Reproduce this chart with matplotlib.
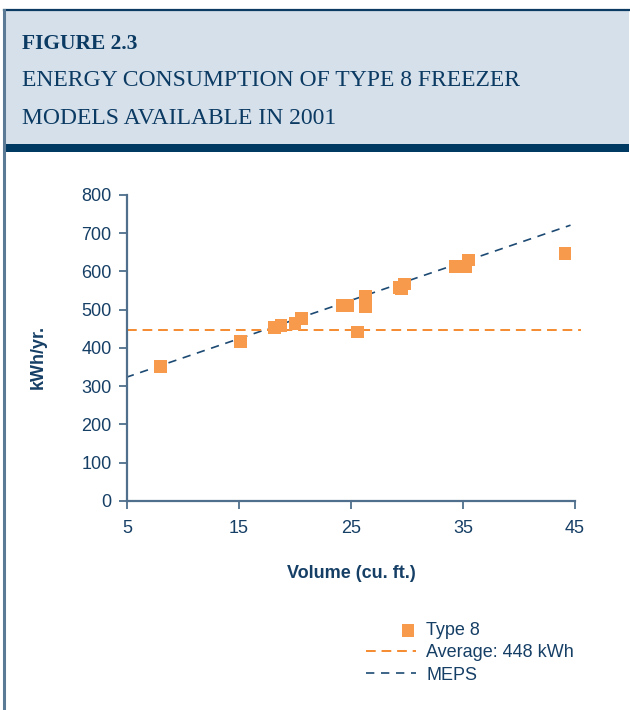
"""Energy consumption of Type 8 freezer models available in 2001 (Figure 2.3)."""

import matplotlib

matplotlib.use("Agg")
import matplotlib.pyplot as plt
from matplotlib.legend_handler import HandlerPathCollection
from matplotlib.lines import Line2D
from matplotlib.patches import Rectangle

# model volumes (cu. ft.) and rated energy use (kWh/yr.)
volume = [8.0, 15.15, 18.15, 18.75, 20.0, 20.6, 24.25, 24.7, 26.3, 26.3, 25.6,
          29.3, 29.5, 29.8, 34.3, 35.2, 35.5, 44.1]
kwh = [351, 416, 453, 458, 465, 478, 512, 512, 536, 508, 442,
       559, 554, 567, 612, 612, 630, 646]

average_kwh = 448
meps_volume = [4.9, 44.6]
meps_kwh = [323, 721]

x_ticks = [5, 15, 25, 35, 45]
y_ticks = [0, 100, 200, 300, 400, 500, 600, 700, 800]

NAVY = "#0b3a63"
TEXT = "#163f66"
SPINE = "#4f6f8c"
ORANGE = "#f79a4b"
AVG_ORANGE = "#f58a2f"
MEPS_BLUE = "#1d4a73"
FONT_SIZE = 13


class RightMarkerHandler(HandlerPathCollection):
    # legend square sits at the right end of the handle, as in the original
    def get_xdata(self, legend, xdescent, ydescent, width, height, fontsize):
        x = [-xdescent + width - 5.5]
        return x, x


plt.rcParams["font.family"] = ["Liberation Sans", "DejaVu Sans"]

fig = plt.figure(figsize=(6.3, 7.1), dpi=100)

# header panel
fig.add_artist(Rectangle((0.006, 0.796), 0.992, 0.19, transform=fig.transFigure,
                         facecolor="#d6e0ea", edgecolor="none", zorder=0))
fig.add_artist(Line2D([0.006, 0.998], [0.986, 0.986], transform=fig.transFigure,
                      color=NAVY, lw=1.6))
fig.add_artist(Rectangle((0.006, 0.786), 0.992, 0.011, transform=fig.transFigure,
                         facecolor="#003a63", edgecolor="none"))
fig.add_artist(Line2D([0.0065, 0.0065], [0.0, 0.986], transform=fig.transFigure,
                      color="#5a7a96", lw=2.2))

fig.text(0.035, 0.938, "FIGURE 2.3", family="Liberation Serif", fontweight="bold",
         fontsize=15.5, color=NAVY, va="center")
fig.text(0.035, 0.886, "ENERGY CONSUMPTION OF TYPE 8 FREEZER", family="Liberation Serif",
         fontsize=17, color=NAVY, va="center")
fig.text(0.035, 0.833, "MODELS AVAILABLE IN 2001", family="Liberation Serif",
         fontsize=17, color=NAVY, va="center")

ax = fig.add_axes([0.2016, 0.2944, 0.7111, 0.431])
ax.plot(meps_volume, meps_kwh, ls=(0, (5, 4)), color=MEPS_BLUE, lw=1.2, label="MEPS", zorder=2)
ax.plot([5, 45.5], [average_kwh, average_kwh], ls=(0, (5, 3)), color=AVG_ORANGE, lw=1.4,
        label=f"Average: {average_kwh} kWh", clip_on=False, zorder=2)
points = ax.scatter(volume, kwh, marker="s", s=85, color=ORANGE, edgecolors="none",
                    label="Type 8", zorder=3)

ax.set_xlim(5, 45)
ax.set_ylim(0, 800)
ax.set_xticks(x_ticks)
ax.set_yticks(y_ticks)
for side in ("top", "right"):
    ax.spines[side].set_visible(False)
for side in ("left", "bottom"):
    ax.spines[side].set_color(SPINE)
    ax.spines[side].set_linewidth(1.6)
ax.tick_params(colors=SPINE, labelcolor=TEXT, labelsize=FONT_SIZE, width=1.3, length=6)
ax.tick_params(axis="x", pad=8)
ax.tick_params(axis="y", pad=5)

ax.set_xlabel("Volume (cu. ft.)", fontsize=FONT_SIZE, fontweight="bold", color=TEXT)
ax.set_ylabel("kWh/yr.", fontsize=FONT_SIZE, fontweight="bold", color=TEXT)
ax.xaxis.set_label_coords(0.5, -0.21)
ax.yaxis.set_label_coords(-0.18, 0.47)

handles, labels = ax.get_legend_handles_labels()
order = [2, 1, 0]
legend = fig.legend([handles[i] for i in order], [labels[i] for i in order],
                    loc="upper left", bbox_to_anchor=(0.555, 0.147), frameon=False,
                    fontsize=FONT_SIZE, handlelength=2.75, labelspacing=0.3,
                    handletextpad=0.6, handler_map={points: RightMarkerHandler()})
for text in legend.get_texts():
    text.set_color(TEXT)

fig.savefig("out.png", dpi=100)
